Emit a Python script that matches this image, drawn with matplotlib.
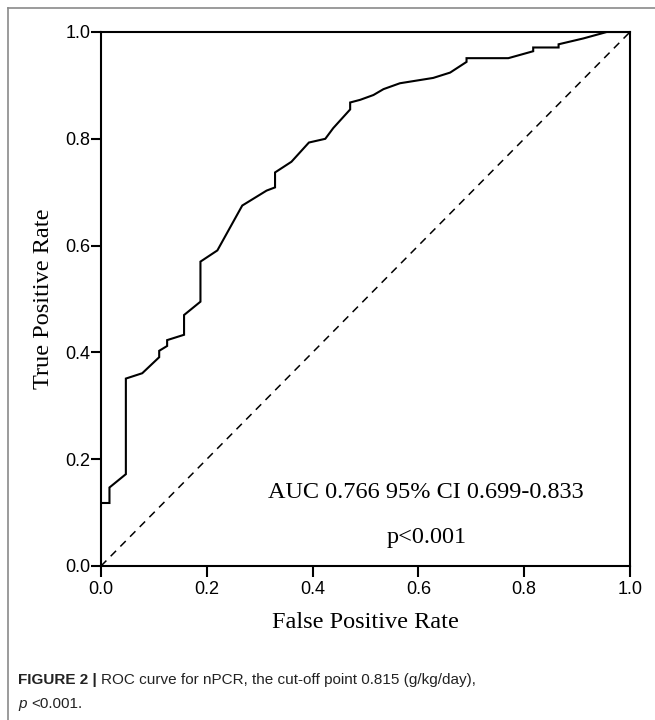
import numpy as np
import matplotlib
matplotlib.use("Agg")
import matplotlib.pyplot as plt
from matplotlib.lines import Line2D

# ROC curve points
fpr = [0.0, 0.016, 0.016, 0.047, 0.047, 0.078, 0.110, 0.110, 0.125, 0.125,
       0.157, 0.157, 0.188, 0.188, 0.220, 0.267, 0.313, 0.329, 0.329, 0.360,
       0.393, 0.424, 0.439, 0.471, 0.471, 0.490, 0.515, 0.534, 0.565, 0.628,
       0.660, 0.691, 0.691, 0.770, 0.817, 0.817, 0.865, 0.865, 0.912, 0.956,
       1.0]
tpr = [0.118, 0.118, 0.147, 0.172, 0.351, 0.361, 0.391, 0.403, 0.412, 0.423,
       0.433, 0.470, 0.495, 0.570, 0.591, 0.675, 0.703, 0.709, 0.737, 0.757,
       0.793, 0.800, 0.820, 0.855, 0.868, 0.873, 0.882, 0.893, 0.904, 0.914,
       0.924, 0.944, 0.951, 0.951, 0.964, 0.971, 0.971, 0.977, 0.988, 1.0,
       1.0]

ticks = [0.0, 0.2, 0.4, 0.6, 0.8, 1.0]
tick_labels = ["0.0", "0.2", "0.4", "0.6", "0.8", "1.0"]

serif = ["Liberation Serif", "DejaVu Serif"]
sans = ["Liberation Sans", "DejaVu Sans"]
narrow = ["Liberation Sans Narrow", "Liberation Sans", "DejaVu Sans"]

fig = plt.figure(figsize=(6.55, 7.2), dpi=100)
ax = fig.add_axes([101/655, 154/720, 529/655, 534/720])

ax.plot(fpr, tpr, color="black", lw=1.5, solid_joinstyle="miter")
ax.plot([0, 1], [0, 1], color="black", lw=1.1, dashes=(5, 4))

ax.set_xlim(0, 1)
ax.set_ylim(0, 1)
ax.set_xticks(ticks)
ax.set_xticklabels(tick_labels, family=sans, fontsize=13)
ax.set_yticks(ticks)
ax.set_yticklabels(tick_labels, family=sans, fontsize=13)
ax.tick_params(axis="x", direction="out", length=8, width=1.5, pad=3)
ax.tick_params(axis="y", direction="out", length=7, width=1.5, pad=0.5)
for s in ax.spines.values():
    s.set_linewidth(1.5)

ax.set_xlabel("False Positive Rate", family=serif, fontsize=17.5, labelpad=10)
ax.set_ylabel("True Positive Rate", family=serif, fontsize=17.5, labelpad=8)

ax.text(0.615, 0.137, "AUC 0.766 95% CI 0.699-0.833", family=serif,
        fontsize=17.5, ha="center", va="center")
ax.text(0.615, 0.054, "p<0.001", family=serif, fontsize=17.5,
        ha="center", va="center")

# gray frame around the figure (left and top)
fig.add_artist(Line2D([8/655, 8/655], [0, 1 - 8/720], color="#8a8a8a",
                      lw=1.2, transform=fig.transFigure))
fig.add_artist(Line2D([8/655, 1], [1 - 8/720, 1 - 8/720], color="#8a8a8a",
                      lw=1.2, transform=fig.transFigure))

# caption
renderer = fig.canvas.get_renderer()
x0 = 18/655
t1 = fig.text(x0, 1 - 680/720, "FIGURE 2 | ", family=narrow, weight="bold",
              fontsize=11, va="center", color="#222222")
bb = t1.get_window_extent(renderer)
fig.text(bb.x1 / 655, 1 - 680/720,
         "ROC curve for nPCR, the cut-off point 0.815 (g/kg/day),",
         family=narrow, fontsize=11, va="center", color="#222222")
t2 = fig.text(x0, 1 - 704/720, "p ", family=narrow, style="italic",
              fontsize=11, va="center", color="#222222")
bb2 = t2.get_window_extent(renderer)
fig.text(bb2.x1 / 655, 1 - 704/720, "<0.001.", family=narrow, fontsize=11,
         va="center", color="#222222")

fig.savefig("out.png", dpi=100)
